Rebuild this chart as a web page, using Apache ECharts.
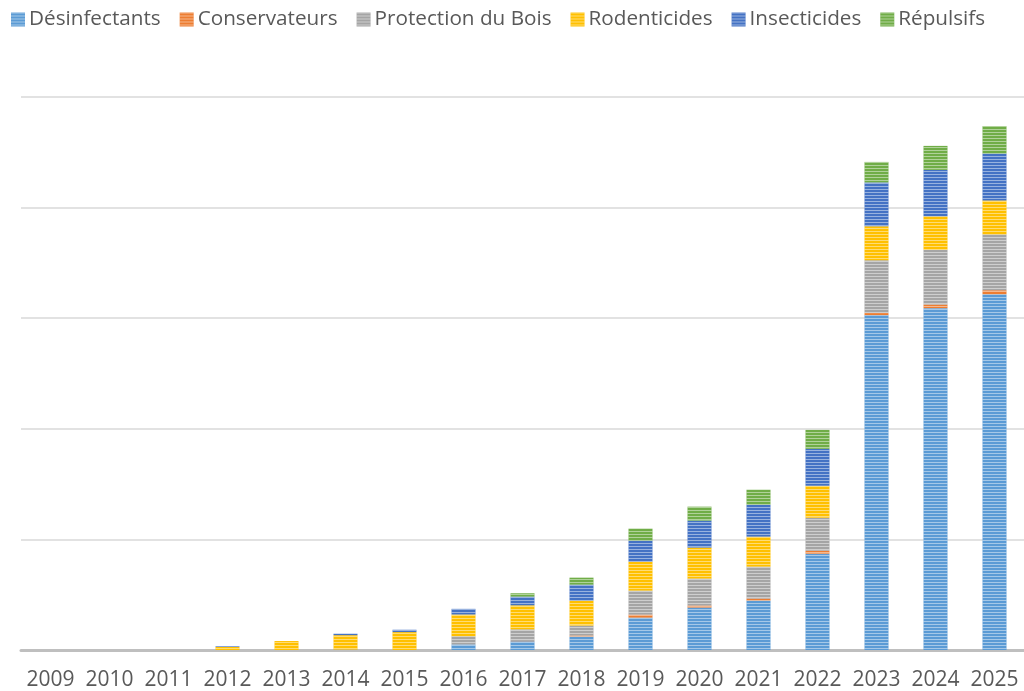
<!DOCTYPE html>
<html><head><meta charset="utf-8">
<script src="https://cdn.jsdelivr.net/npm/echarts@6/dist/echarts.min.js"></script>
<style>html,body{margin:0;padding:0;background:#fff}#c{width:1024px;height:691px}</style>
</head><body><div id="c"></div>
<script>
const years = ['2009','2010','2011','2012','2013','2014','2015','2016','2017','2018','2019','2020','2021','2022','2023','2024','2025'];
const desinfectants = [0,0,0,0,0,0,0,5.0,7.9,12.2,29.3,38.4,44.7,87.1,302.8,309.1,321.7];
const conservateurs = [0,0,0,0,0,0,0,0,0.3,0.9,2.7,1.8,1.8,2.7,1.8,3.2,3.6];
const protectionBois = [0,0,0,0,0,0.4,0,7.5,10.5,9.0,21.7,24.4,28.9,29.8,47.8,49.6,50.5];
const rodenticides = [0,0,0,2.7,8.1,13.0,16.2,19.6,21.7,22.6,26.2,28.0,27.1,28.9,30.7,30.2,30.7];
const insecticides = [0,0,0,0.6,0,1.3,2.1,5.1,7.9,14.4,19.0,24.4,28.9,33.4,39.7,42.0,42.4];
const repulsifs = [0,0,0,0,0,0,0,0,3.0,6.3,10.8,12.6,13.5,17.1,18.5,21.7,24.8];

const names = ['Désinfectants','Conservateurs','Protection du Bois','Rodenticides','Insecticides','Répulsifs'];
const colors = ['#5B9BD5','#ED7D31','#A5A5A5','#FFC000','#4472C4','#70AD47'];
const dataSets = [desinfectants, conservateurs, protectionBois, rodenticides, insecticides, repulsifs];

const decal = {
  symbol: 'rect',
  symbolSize: 1,
  color: 'rgba(255,255,255,0.45)',
  dashArrayX: [1, 0],
  dashArrayY: [1, 2],
  rotation: 0
};

const chart = echarts.init(document.getElementById('c'));
chart.setOption({
  animation: false,
  color: colors,
  legend: {
    top: 4, left: 6,
    itemWidth: 14, itemHeight: 14, itemGap: 19,
    icon: 'rect',
    textStyle: { fontFamily: 'Open Sans', fontSize: 20.7, color: '#595959', padding: [0,0,0,-1] },
    data: names
  },
  grid: { left: 21, top: 97, width: 1008, bottom: 40.5 },
  xAxis: {
    type: 'category',
    data: years,
    axisLine: { lineStyle: { color: '#bfbfbf', width: 3 } },
    axisTick: { show: false },
    axisLabel: { interval: 0, fontFamily: 'Open Sans', fontSize: 21, color: '#595959', margin: 20 }
  },
  yAxis: {
    type: 'value', min: 0, max: 500, interval: 100,
    axisLabel: { show: false },
    axisLine: { show: false }, axisTick: { show: false },
    splitLine: { lineStyle: { color: '#d9d9d9', width: 1.5 } }
  },
  series: names.map((n, i) => ({
    name: n, type: 'bar', stack: 'total', barWidth: 24,
    data: dataSets[i],
    itemStyle: { color: colors[i], decal: decal }
  }))
});
</script></body></html>
